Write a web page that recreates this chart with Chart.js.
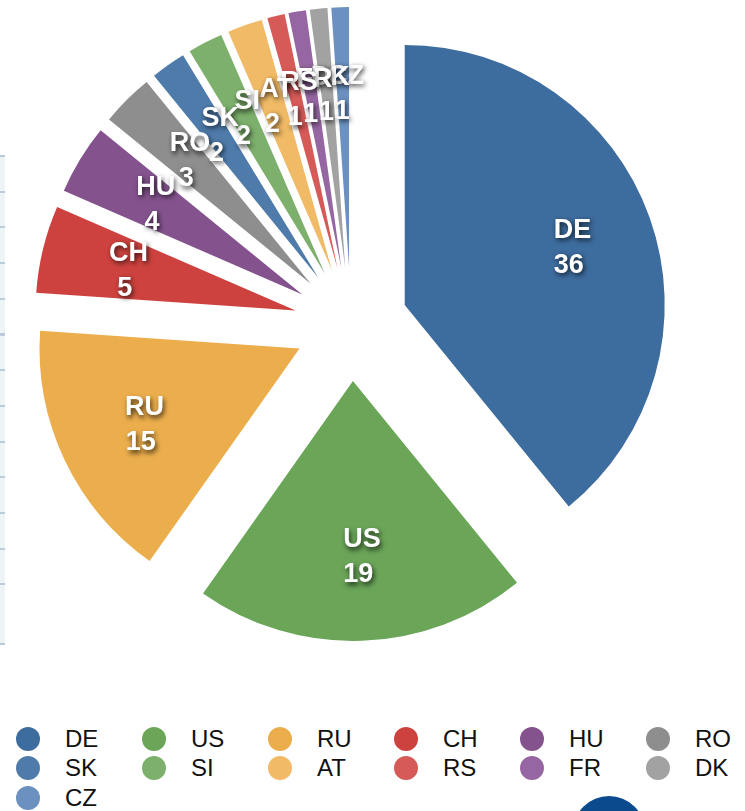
<!DOCTYPE html>
<html>
<head>
<meta charset="utf-8">
<script src="https://cdn.jsdelivr.net/npm/chart.js@4.4.1/dist/chart.umd.min.js"></script>
<style>
    html, body {
        margin: 0;
        padding: 0;
        background: #fff;
        width: 745px;
        height: 811px;
        overflow: hidden;
        font-family: "Liberation Sans", Helvetica, Arial, sans-serif;
    }
    #wrap { position: relative; width: 745px; height: 811px; }
    #pie { position: absolute; left: 0; top: 0; }
    #legend {
        position: absolute;
        left: 16px;
        top: 724px;
        display: grid;
        grid-template-columns: repeat(6, 126px);
        grid-auto-rows: 29.5px;
    }
    .item { display: flex; align-items: center; }
    .dot { width: 24px; height: 24px; border-radius: 50%; margin-right: 25px; flex: none; }
    .item span { font-size: 24px; line-height: 24px; color: #111; }
    /* edge of the neighbouring table */
    #rows {
        position: absolute; left: 0; top: 155px; width: 5px; height: 430px;
        background: repeating-linear-gradient(to bottom, #b9cadb 0, #b9cadb 2px, #eef3f6 2px, #eef3f6 35.7px);
    }
    #rowsLast {
        position: absolute; left: 0; top: 585px; width: 5px; height: 58px;
        background: #eef3f6; border-bottom: 2px solid #b9cadb;
    }
    #badge {
        position: absolute; left: 573px; top: 796px; width: 72px; height: 72px;
        border-radius: 50%; background: #0b4a8c;
    }
</style>
</head>
<body>
<div id="wrap">
    <div id="rows"></div>
    <div id="rowsLast"></div>
    <canvas id="pie" width="745" height="700"></canvas>
    <div id="legend"></div>
    <div id="badge"></div>
</div>
<script>
const countries = ['DE', 'US', 'RU', 'CH', 'HU', 'RO', 'SK', 'SI', 'AT', 'RS', 'FR', 'DK', 'CZ'];
const counts = [36, 19, 15, 5, 4, 3, 2, 2, 2, 1, 1, 1, 1];
const sliceColors = [
    '#3d6c9e', '#6aa558', '#ecae4c', '#cd423f', '#84538e', '#8e8e8e',
    '#4f7bab', '#7db06c', '#f0ba66', '#d55a58', '#9566a1', '#a2a2a2', '#6b91c0'
];

const EXPLODE = 57;         // every slice pushed out from the centre by this many px
const LABEL_RADIUS = 0.673; // label distance from slice tip, as share of radius

// push each arc out along its middle angle
const explodePlugin = {
    id: 'explode',
    afterDatasetsUpdate(chart) {
        chart.getDatasetMeta(0).data.forEach(arc => {
            const mid = (arc.startAngle + arc.endAngle) / 2;
            arc.x += Math.cos(mid) * EXPLODE;
            arc.y += Math.sin(mid) * EXPLODE;
        });
    }
};

// white two-line labels (name / value) with a dark drop shadow
const sliceLabels = {
    id: 'sliceLabels',
    afterDatasetsDraw(chart) {
        const ctx = chart.ctx;
        const meta = chart.getDatasetMeta(0);
        ctx.save();
        ctx.font = 'bold 27px "Liberation Sans", Helvetica, Arial, sans-serif';
        ctx.textAlign = 'center';
        ctx.textBaseline = 'middle';
        ctx.fillStyle = '#fff';
        ctx.shadowColor = 'rgba(0, 0, 0, 0.75)';
        ctx.shadowBlur = 5;
        ctx.shadowOffsetX = 1.5;
        ctx.shadowOffsetY = 2.5;
        // drawn back to front so the first labels sit on top where the small ones crowd
        for (let i = meta.data.length - 1; i >= 0; i--) {
            const arc = meta.data[i];
            const { x, y, startAngle, endAngle, outerRadius } = arc.getProps(['x', 'y', 'startAngle', 'endAngle', 'outerRadius'], true);
            const mid = (startAngle + endAngle) / 2;
            const r = outerRadius * LABEL_RADIUS;
            const px = x + Math.cos(mid) * r + 3;
            const py = y + Math.sin(mid) * r;
            ctx.fillText(chart.data.labels[i], px, py - 16);
            // value line keeps a trailing space, so it sits a little left of the name
            ctx.fillText(chart.data.datasets[0].data[i] + ' ', px, py + 19);
        }
        ctx.restore();
    }
};

const chart = new Chart(document.getElementById('pie'), {
    type: 'pie',
    data: {
        labels: countries,
        datasets: [{
            data: counts,
            backgroundColor: sliceColors,
            borderWidth: 0,
            hoverOffset: 0,
            clip: false
        }]
    },
    options: {
        responsive: false,
        animation: false,
        events: [],
        layout: {
            padding: { left: 91, right: 134, top: 64, bottom: 116 }
        },
        plugins: {
            legend: { display: false },
            tooltip: { enabled: false }
        }
    },
    plugins: [explodePlugin, sliceLabels]
});

// legend as a fixed 6-column grid
const legendBox = document.getElementById('legend');
chart.options.plugins.legend.labels.generateLabels(chart).forEach(item => {
    const el = document.createElement('div');
    el.className = 'item';
    const dot = document.createElement('div');
    dot.className = 'dot';
    dot.style.background = item.fillStyle;
    const txt = document.createElement('span');
    txt.textContent = item.text;
    el.appendChild(dot);
    el.appendChild(txt);
    legendBox.appendChild(el);
});
</script>
</body>
</html>
